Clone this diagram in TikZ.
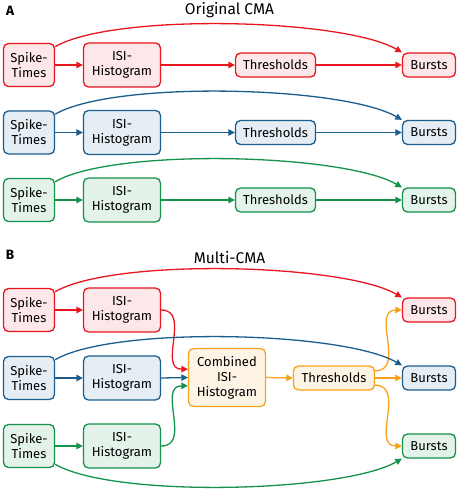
\documentclass[tikz,border=0pt]{standalone}
\usepackage{fontspec}
\setmainfont{Fira Sans}
\usetikzlibrary{arrows.meta}
\definecolor{cred}{HTML}{E8161F}
\definecolor{cblue}{HTML}{1B5E8E}
\definecolor{cgreen}{HTML}{14924B}
\definecolor{corange}{HTML}{F7A21C}
\definecolor{fred}{HTML}{FDE7E9}
\definecolor{fblue}{HTML}{E5EEF5}
\definecolor{fgreen}{HTML}{E4F3EA}
\definecolor{forange}{HTML}{FEF4E6}
\tikzset{
  box/.style={draw, rounded corners=5pt, line width=1.3pt, align=center,
    font=\fontsize{13}{15}\selectfont, inner sep=1pt, text=black},
  spk/.style={box, minimum width=51pt, minimum height=43pt},
  isi/.style={box, minimum width=77pt, minimum height=44pt},
  thr/.style={box, minimum width=80pt, minimum height=24pt},
  bst/.style={box, minimum width=53pt, minimum height=24pt},
  cmb/.style={box, minimum width=77pt, minimum height=58pt},
  R/.style={draw=cred, fill=fred},
  U/.style={draw=cblue, fill=fblue},
  G/.style={draw=cgreen, fill=fgreen},
  O/.style={draw=corange, fill=forange},
  arr/.style={line width=1.3pt, -{Triangle[length=6.5pt,width=6.5pt]}},
  ttl/.style={font=\fontsize{15.5}{18}\selectfont, anchor=base},
  lbl/.style={font=\fontsize{13.5}{15}\selectfont\bfseries, anchor=base},
}
\begin{document}
\begin{tikzpicture}[x=1pt,y=1pt]
\useasboundingbox (0,0) rectangle (459,490);
% ---- A ----
\node[lbl] (la) at (10,474) {A};
\node[ttl] (ta) at (229.5,475) {Original CMA};
\foreach \n/\y/\s in {1/425/R,2/357.5/U,3/290/G}{
  \node[spk,\s] (sA\n) at (29,\y) {Spike-\\Times};
  \node[isi,\s] (hA\n) at (122,\y) {ISI-\\Histogram};
  \node[thr,\s] (tA\n) at (275.5,\y) {Thresholds};
  \node[bst,\s] (bA\n) at (429,\y) {Bursts};
}
\foreach \n/\c in {1/cred,2/cblue,3/cgreen}{
  \draw[arr,\c] (sA\n.east) -- (hA\n.west);
  \draw[arr,\c] (hA\n.east) -- (tA\n.west);
  \draw[arr,\c] (tA\n.east) -- (bA\n.west);
  \draw[arr,\c] (sA\n.35) to[out=30,in=150,looseness=0.5] (bA\n.north west);
}
% ---- B ----
\node[lbl] (lb) at (10,230) {B};
\node[ttl] (tb) at (229.5,226) {Multi-CMA};
\foreach \n/\y/\s in {1/180/R,2/112/U,3/44/G}{
  \node[spk,\s] (sB\n) at (29,\y) {Spike-\\Times};
  \node[isi,\s] (hB\n) at (122,\y) {ISI-\\Histogram};
  \node[bst,\s] (bB\n) at (429,\y) {Bursts};
}
\node[cmb,O] (comb) at (227,112.5) {Combined\\ISI-\\Histogram};
\node[thr,O, minimum width=81pt] (thrB) at (334,112) {Thresholds};
\draw[arr,cred] (sB1.east) -- (hB1.west);
\draw[arr,cblue] (sB2.east) -- (hB2.west);
\draw[arr,cgreen] (sB3.east) -- (hB3.west);
\draw[arr,cred] (hB1.east) to[out=0,in=180,looseness=1.2] (comb.168);
\draw[arr,cblue] (hB2.east) -- (comb.west);
\draw[arr,cgreen] (hB3.east) to[out=0,in=180,looseness=1.2] (comb.192);
\draw[arr,corange] (comb.east) -- (thrB.west);
\draw[arr,corange] (thrB.east) -- (bB2.west);
\draw[arr,corange] (thrB.10) to[out=0,in=180,looseness=1.2] (bB1.west);
\draw[arr,corange] (thrB.-10) to[out=0,in=180,looseness=1.2] (bB3.west);
\draw[arr,cred] (sB1.35) to[out=30,in=150,looseness=0.5] (bB1.north west);
\draw[arr,cblue] (sB2.35) to[out=30,in=150,looseness=0.5] (bB2.north west);
\draw[arr,cgreen] (sB3.-35) to[out=-30,in=-150,looseness=0.5] (bB3.south west);
\end{tikzpicture}
\end{document}
